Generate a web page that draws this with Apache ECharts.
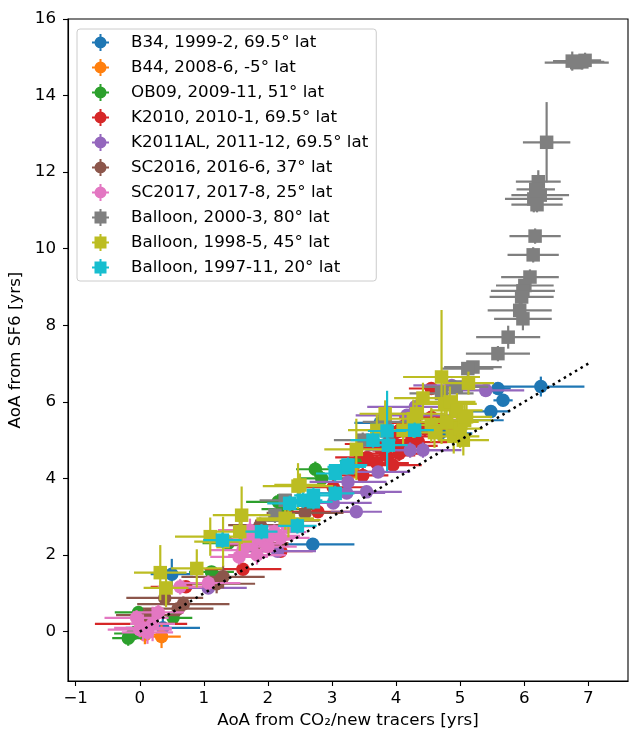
<!DOCTYPE html>
<html>
<head>
<meta charset="utf-8">
<script src="https://cdn.jsdelivr.net/npm/echarts@6/dist/echarts.min.js"></script>
<style>
  html, body { margin: 0; padding: 0; background: #fff; }
  #chart { width: 629px; height: 732px; }
</style>
</head>
<body>
<div id="chart"></div>
<script>
// Each row: [AoA from CO2/new tracers, AoA from SF6, x error, y error]  (years)
const b34 = [
  [6.26, 6.40, 0.68, 0.26], [5.59, 6.35, 0.20, 0.15], [5.67, 6.04, 0.15, 0.15],
  [5.48, 5.75, 0.30, 0.15], [5.08, 5.52, 0.60, 0.15], [4.69, 5.18, 0.50, 0.20],
  [3.75, 5.45, 0.40, 0.15], [2.70, 2.28, 0.65, 0.15], [0.50, 1.50, 0.33, 0.40],
  [0.36, 0.10, 0.58, 0.40]
];
const b44 = [
  [0.34, -0.13, 0.30, 0.30], [0.08, -0.08, 0.20, 0.25],
  [3.54, 4.50, 0.30, 0.15], [3.33, 4.17, 0.35, 0.15]
];
const ob09 = [
  [-0.18, -0.17, 0.25, 0.20], [-0.10, -0.05, 0.30, 0.20], [-0.02, 0.50, 0.37, 0.15],
  [0.52, 0.36, 0.30, 0.15], [1.12, 1.56, 0.35, 0.15], [1.38, 2.31, 0.40, 0.15],
  [2.16, 3.39, 0.50, 0.20], [2.30, 3.20, 0.40, 0.15], [2.74, 4.24, 0.30, 0.20],
  [2.84, 4.00, 0.35, 0.20], [3.42, 4.46, 0.30, 0.20]
];
const k2010 = [
  [0.02, 0.20, 0.72, 0.12], [0.72, 1.17, 0.55, 0.15], [1.61, 1.63, 0.60, 0.15],
  [2.20, 2.10, 0.50, 0.15], [2.78, 3.13, 0.50, 0.15], [3.02, 3.77, 0.50, 0.20],
  [3.48, 4.08, 0.40, 0.20], [3.55, 4.55, 0.50, 0.20], [3.70, 4.40, 0.50, 0.20],
  [3.65, 4.90, 0.45, 0.20], [3.75, 4.80, 0.45, 0.20], [3.85, 4.60, 0.45, 0.20],
  [3.90, 5.00, 0.50, 0.20], [3.95, 4.35, 0.45, 0.20], [4.05, 4.65, 0.45, 0.20],
  [4.00, 5.20, 0.40, 0.20], [4.10, 5.35, 0.45, 0.20], [4.15, 4.85, 0.50, 0.20],
  [4.25, 5.10, 0.50, 0.20], [4.35, 4.95, 0.45, 0.20], [4.30, 5.45, 0.45, 0.20],
  [4.45, 5.30, 0.45, 0.20], [4.60, 5.35, 0.45, 0.20], [4.55, 5.60, 0.50, 0.20],
  [4.55, 6.35, 0.35, 0.15]
];
const k2011al = [
  [1.07, 1.14, 0.60, 0.15], [2.15, 2.10, 0.60, 0.15], [3.02, 3.36, 0.60, 0.15],
  [3.23, 3.62, 0.60, 0.15], [3.25, 3.91, 0.60, 0.15], [3.38, 3.13, 0.40, 0.15],
  [3.54, 3.65, 0.55, 0.15], [3.72, 4.17, 0.50, 0.15], [4.22, 4.74, 0.70, 0.20],
  [4.42, 4.74, 0.60, 0.20], [4.17, 5.65, 0.80, 0.15], [4.30, 5.87, 0.75, 0.15],
  [4.87, 6.43, 0.60, 0.15], [5.40, 6.30, 0.60, 0.15]
];
const sc2016 = [
  [0.13, 0.43, 0.50, 0.15], [0.39, 0.88, 0.60, 0.20], [0.68, 0.72, 0.72, 0.20],
  [0.60, 0.60, 0.55, 0.15], [1.20, 1.25, 0.60, 0.25], [1.30, 1.43, 0.65, 0.30],
  [1.77, 2.26, 0.55, 0.25], [1.82, 2.31, 0.50, 0.20], [1.88, 2.78, 0.50, 0.20],
  [2.30, 2.90, 0.50, 0.20], [2.58, 3.10, 0.60, 0.20]
];
const sc2017 = [
  [-0.05, 0.36, 0.50, 0.20], [0.05, 0.10, 0.45, 0.35], [0.12, -0.02, 0.40, 0.30],
  [0.20, 0.20, 0.35, 0.45], [0.00, 0.05, 0.50, 0.20], [0.29, 0.50, 0.40, 0.20],
  [0.63, 1.17, 0.35, 0.20], [1.07, 1.27, 0.50, 0.20], [1.55, 1.95, 0.45, 0.20],
  [1.61, 2.13, 0.50, 0.25], [1.65, 2.40, 0.50, 0.20], [1.72, 2.65, 0.50, 0.30],
  [1.75, 2.30, 0.45, 0.20], [1.83, 2.00, 0.45, 0.25], [1.90, 2.40, 0.50, 0.30],
  [2.00, 2.22, 0.45, 0.25], [2.05, 2.50, 0.45, 0.20], [2.10, 2.60, 0.50, 0.20],
  [2.20, 2.45, 0.45, 0.20], [2.30, 2.75, 0.45, 0.20]
];
const balloon2000 = [
  [6.82, 14.86, 0.50, 0.15], [6.75, 14.90, 0.30, 0.25], [6.90, 14.88, 0.35, 0.20],
  [6.95, 14.92, 0.25, 0.20], [6.35, 12.78, 0.37, 1.05], [6.22, 11.75, 0.35, 0.30],
  [6.18, 11.55, 0.30, 0.30], [6.25, 11.40, 0.45, 0.20], [6.15, 11.30, 0.45, 0.35],
  [6.20, 11.15, 0.40, 0.20], [6.17, 10.33, 0.40, 0.20], [6.14, 9.84, 0.40, 0.20],
  [6.09, 9.26, 0.45, 0.20], [6.01, 9.04, 0.45, 0.20], [5.98, 8.90, 0.50, 0.20],
  [5.96, 8.74, 0.50, 0.20], [5.93, 8.39, 0.50, 0.20], [5.98, 8.17, 0.45, 0.30],
  [5.75, 7.69, 0.50, 0.30], [5.59, 7.26, 0.50, 0.20], [5.20, 6.91, 0.45, 0.15],
  [5.12, 6.87, 0.40, 0.20], [4.94, 6.39, 0.50, 0.15], [4.71, 6.22, 0.50, 0.15],
  [3.83, 5.48, 0.35, 0.20], [3.48, 5.00, 0.45, 0.20], [2.11, 3.04, 0.25, 0.20],
  [2.27, 3.43, 0.40, 0.15]
];
const balloon1998 = [
  [0.32, 1.54, 0.41, 0.72], [0.41, 1.14, 0.35, 0.50], [0.89, 1.65, 0.40, 0.50],
  [1.10, 2.48, 0.55, 0.50], [1.30, 2.35, 0.45, 0.65], [1.56, 2.61, 0.40, 0.50],
  [1.59, 3.04, 0.45, 0.75], [2.32, 2.91, 0.50, 0.45], [2.27, 2.96, 0.45, 0.30],
  [2.47, 3.80, 0.55, 0.60], [2.50, 3.83, 0.40, 0.30], [3.38, 4.76, 0.50, 0.80],
  [3.70, 5.26, 0.45, 0.40], [3.83, 5.69, 0.40, 0.35], [4.11, 5.26, 0.35, 0.40],
  [4.27, 5.56, 0.50, 0.50], [4.32, 5.69, 0.45, 0.40], [4.42, 6.10, 0.45, 0.40],
  [4.55, 5.40, 0.40, 0.45], [4.60, 5.20, 0.45, 0.40], [4.71, 6.65, 0.60, 1.75],
  [4.76, 5.95, 0.50, 0.50], [4.79, 5.48, 0.50, 0.40], [4.84, 6.00, 0.40, 0.40],
  [4.90, 5.10, 0.40, 0.45], [4.95, 5.78, 0.40, 0.45], [5.00, 5.30, 0.35, 0.50],
  [5.05, 5.00, 0.40, 0.40], [5.07, 5.52, 0.45, 0.45], [5.10, 5.61, 0.40, 0.35],
  [5.13, 6.49, 0.40, 0.30]
];
const balloon1997 = [
  [1.29, 2.39, 0.30, 0.20], [1.90, 2.61, 0.25, 0.20], [2.46, 2.76, 0.30, 0.20],
  [2.34, 3.35, 0.35, 0.20], [2.55, 3.43, 0.30, 0.20], [2.71, 3.39, 0.30, 0.20],
  [2.71, 3.56, 0.30, 0.20], [3.05, 3.61, 0.30, 0.20], [3.05, 4.13, 0.30, 0.20],
  [3.23, 4.30, 0.30, 0.20], [3.25, 4.35, 0.30, 0.20], [3.64, 5.00, 0.35, 0.20],
  [3.86, 5.24, 0.30, 1.05], [3.88, 4.87, 0.30, 0.20], [4.29, 5.26, 0.30, 0.20]
];

const seriesNames = [
  'B34, 1999-2, 69.5° lat', 'B44, 2008-6, -5° lat', 'OB09, 2009-11, 51° lat',
  'K2010, 2010-1, 69.5° lat', 'K2011AL, 2011-12, 69.5° lat', 'SC2016, 2016-6, 37° lat',
  'SC2017, 2017-8, 25° lat', 'Balloon, 2000-3, 80° lat', 'Balloon, 1998-5, 45° lat',
  'Balloon, 1997-11, 20° lat'
];
const seriesData = [b34, b44, ob09, k2010, k2011al, sc2016, sc2017,
  balloon2000, balloon1998, balloon1997];
const seriesColors = ['#1f77b4', '#ff7f0e', '#2ca02c', '#d62728', '#9467bd',
  '#8c564b', '#e377c2', '#7f7f7f', '#bcbd22', '#17becf'];
const seriesMarkers = ['circle', 'circle', 'circle', 'circle', 'circle', 'circle',
  'circle', 'rect', 'rect', 'rect'];

const xTicks = [-1, 0, 1, 2, 3, 4, 5, 6, 7];
const yTicks = [0, 2, 4, 6, 8, 10, 12, 14, 16];
const oneToOne = [[0, 0], [7, 7]];

// legend handles: marker with error-bar cross
const circleIcon = 'path://M0 7.5H17V9.5H0Z M7.5 0H9.5V17H7.5Z M2.5 8.5A6 6 0 1 1 14.5 8.5A6 6 0 1 1 2.5 8.5Z';
const squareIcon = 'path://M0 7.5H17V9.5H0Z M7.5 0H9.5V17H7.5Z M2.5 2.5H14.5V14.5H2.5Z';

const FONT = 'DejaVu Sans';
const FS = 16.7;

function errorBars(color) {
  return function (params, api) {
    const x = api.value(0), y = api.value(1), xe = api.value(2), ye = api.value(3);
    const l = api.coord([x - xe, y]), r = api.coord([x + xe, y]);
    const b = api.coord([x, y - ye]), t = api.coord([x, y + ye]);
    const style = { stroke: color, lineWidth: 2.2, fill: null };
    return {
      type: 'group',
      children: [
        { type: 'line', shape: { x1: l[0], y1: l[1], x2: r[0], y2: r[1] }, style: style },
        { type: 'line', shape: { x1: b[0], y1: b[1], x2: t[0], y2: t[1] }, style: style }
      ]
    };
  };
}

const series = [];
seriesData.forEach(function (rows, i) {
  series.push({
    type: 'custom',
    name: seriesNames[i] + ' err',
    data: rows,
    renderItem: errorBars(seriesColors[i]),
    encode: { x: 0, y: 1 },
    z: 2 + 2 * i,
    silent: true,
    clip: true
  });
  series.push({
    type: 'scatter',
    name: seriesNames[i],
    data: rows.map(function (r) { return [r[0], r[1]]; }),
    symbol: seriesMarkers[i],
    symbolSize: 13.5,
    itemStyle: { color: seriesColors[i], opacity: 1 },
    z: 3 + 2 * i,
    emphasis: { disabled: true },
    silent: true
  });
});
series.push({
  type: 'line',
  name: '1:1',
  data: oneToOne,
  symbol: 'none',
  lineStyle: { color: '#000', width: 2.5, type: [2.5, 4], cap: 'butt' },
  z: 40,
  silent: true
});

const chart = echarts.init(document.getElementById('chart'), null, { renderer: 'canvas' });
chart.setOption({
  animation: false,
  backgroundColor: '#fff',
  textStyle: { fontFamily: FONT },
  grid: {
    left: 68, right: 1, top: 19, bottom: 51,
    outerBoundsMode: 'none',
    containLabel: false,
    show: true, borderColor: '#000', borderWidth: 1.1, backgroundColor: 'transparent'
  },
  legend: {
    orient: 'vertical',
    left: 77, top: 29,
    padding: [5, 8, 5, 15],
    itemWidth: 17, itemHeight: 17, itemGap: 8,
    backgroundColor: 'rgba(255,255,255,0.8)',
    borderColor: '#cccccc', borderWidth: 1, borderRadius: 3,
    textStyle: { fontFamily: FONT, fontSize: FS, color: '#000', padding: [0, 0, 0, 17] },
    selectedMode: false,
    z: 100,
    data: seriesNames.map(function (n, i) {
      return { name: n, icon: seriesMarkers[i] === 'circle' ? circleIcon : squareIcon };
    })
  },
  xAxis: {
    type: 'value',
    min: -1.12, max: 7.62,
    name: 'AoA from CO₂/new tracers [yrs]',
    nameLocation: 'middle', nameGap: 31,
    nameTextStyle: { fontFamily: FONT, fontSize: FS, color: '#000' },
    axisLine: { show: true, onZero: false, lineStyle: { color: '#000', width: 1.1 } },
    axisTick: { show: true, length: 5, lineStyle: { color: '#000', width: 1.1 }, customValues: xTicks },
    axisLabel: { fontFamily: FONT, fontSize: FS, color: '#000', margin: 9, customValues: xTicks,
      formatter: function (v) { return v < 0 ? '\u2212' + Math.abs(v) : String(v); } },
    splitLine: { show: false }
  },
  yAxis: {
    type: 'value',
    min: -1.29, max: 16,
    name: 'AoA from SF6 [yrs]',
    nameLocation: 'middle', nameGap: 39,
    nameTextStyle: { fontFamily: FONT, fontSize: FS, color: '#000' },
    axisLine: { show: true, onZero: false, lineStyle: { color: '#000', width: 1.1 } },
    axisTick: { show: true, length: 5, lineStyle: { color: '#000', width: 1.1 }, customValues: yTicks },
    axisLabel: { fontFamily: FONT, fontSize: FS, color: '#000', margin: 12, customValues: yTicks },
    splitLine: { show: false }
  },
  series: series
});
</script>
</body>
</html>
